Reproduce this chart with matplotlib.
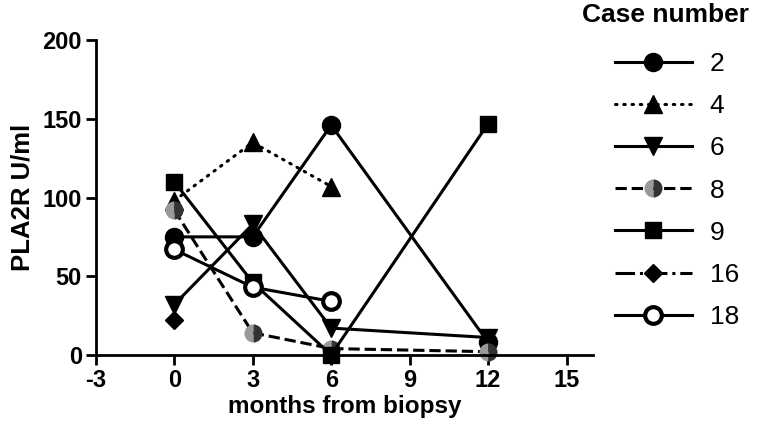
import matplotlib
matplotlib.use("Agg")
import matplotlib.pyplot as plt

plt.rcParams['font.family'] = ['Liberation Sans', 'DejaVu Sans']
plt.rcParams['axes.unicode_minus'] = False

months = [0, 3, 6, 12]
case_labels = ['2', '4', '6', '8', '9', '16', '18']
case2 = [75, 75, 146, 8]
case4 = [98, 135, 107, None]
case6 = [32, 83, 17, 11]
case8 = [92, 14, 4, 2]
case9 = [110, 46, 0, 147]
case16 = [22, None, None, None]
case18 = [67, 43, 34, None]

series = [case2, case4, case6, case8, case9, case16, case18]
styles = [
    dict(ls='-', marker='o', mfc='black'),
    dict(ls=(0, (0.5, 2.2)), dash_capstyle='round', marker='^', mfc='black'),
    dict(ls='-', marker='v', mfc='black'),
    dict(ls='--', marker='o', mfc='#999999', fillstyle='left', markerfacecoloralt='#333333', mec='none'),
    dict(ls='-', marker='s', mfc='black', ms=12),
    dict(ls='-.', marker='D', mfc='black', ms=9),
    dict(ls='-', marker='o', mfc='white', mew=3, ms=12),
]

fig = plt.figure(figsize=(7.6, 4.37), dpi=100)
ax = fig.add_axes([0.126, 0.188, 0.654, 0.72])

for lab, vals, st in zip(case_labels, series, styles):
    xs = [m for m, v in zip(months, vals) if v is not None]
    ys = [v for v in vals if v is not None]
    kw = dict(color='black', lw=2.2, ms=13, mec='black', clip_on=False)
    kw.update(st)
    ax.plot(xs, ys, label=lab, **kw)

ax.set_xlim(-3, 16)
ax.set_ylim(0, 200)
ax.set_xticks([-3, 0, 3, 6, 9, 12, 15])
ax.set_yticks([0, 50, 100, 150, 200])
for s in ['top', 'right']:
    ax.spines[s].set_visible(False)
for s in ['left', 'bottom']:
    ax.spines[s].set_linewidth(2)
ax.tick_params(width=2, length=7, labelsize=17, pad=3)
for t in ax.get_xticklabels() + ax.get_yticklabels():
    t.set_fontweight('bold')
ax.set_xlabel('months from biopsy', fontsize=17.5, fontweight='bold', labelpad=2)
ax.set_ylabel('PLA2R U/ml', fontsize=18.5, fontweight='bold', labelpad=6)

fig.text(582 / 760, 1 - 15 / 437, 'Case number', fontsize=19, fontweight='bold',
         ha='left', va='center')
leg = fig.legend(loc='center left', bbox_to_anchor=(0.795, 1 - 190.5 / 437), frameon=False,
                 fontsize=19, handlelength=2.92, borderaxespad=0,
                 labelspacing=0.69, handletextpad=0.68)

fig.savefig('out.png', dpi=100)
